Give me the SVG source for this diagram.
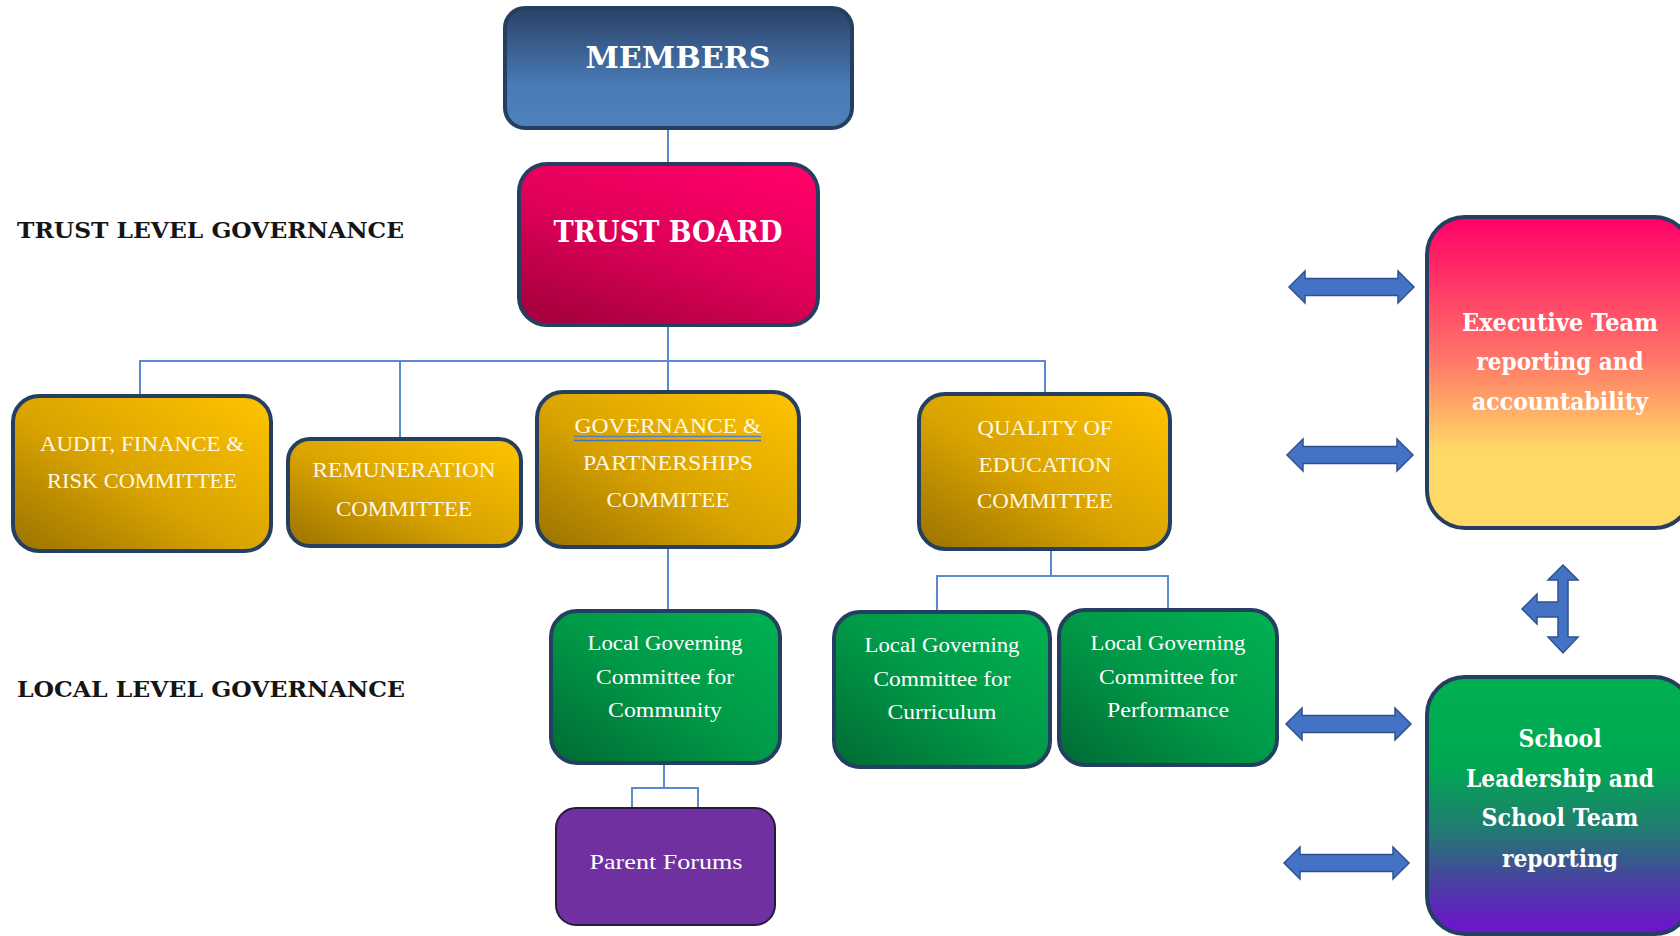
<svg xmlns="http://www.w3.org/2000/svg" width="1680" height="936" viewBox="0 0 1680 936">
<style>
.box{stroke:#243F60;stroke-width:4}
.conn{fill:none;stroke:#5B8AD0;stroke-width:2}
.arrow{fill:#4472C4;stroke:#2F528F;stroke-width:1.5}
.title{font-family:"DejaVu Serif","Liberation Serif",serif;font-weight:bold;fill:#fff;text-anchor:middle;lengthAdjust:spacingAndGlyphs}
.side{font-family:"DejaVu Serif","Liberation Serif",serif;font-weight:bold;fill:#151515;font-size:23px}
.cm{font-family:"Liberation Serif","DejaVu Serif",serif;fill:#FFF8E6;text-anchor:middle;font-size:22px}
.gr{font-family:"Liberation Serif","DejaVu Serif",serif;fill:#fff;text-anchor:middle;font-size:21px}
.rt{font-family:"DejaVu Serif","Liberation Serif",serif;font-weight:bold;fill:#fff;text-anchor:middle;font-size:24px}
</style>
<defs>
<linearGradient id="gMem" x1="0" y1="0" x2="0" y2="1">
<stop offset="0" stop-color="#2A4266"/><stop offset="0.65" stop-color="#4A7BB7"/><stop offset="1" stop-color="#4F81BD"/>
</linearGradient>
<linearGradient id="gTrust" x1="0.2" y1="1" x2="0.8" y2="0">
<stop offset="0" stop-color="#A8003E"/><stop offset="0.5" stop-color="#E0005A"/><stop offset="1" stop-color="#FF0066"/>
</linearGradient>
<linearGradient id="gYel" x1="0" y1="1" x2="1" y2="0">
<stop offset="0" stop-color="#9A7200"/><stop offset="0.45" stop-color="#D9A300"/><stop offset="1" stop-color="#FFC400"/>
</linearGradient>
<linearGradient id="gGrn" x1="0" y1="1" x2="1" y2="0">
<stop offset="0" stop-color="#006A34"/><stop offset="0.5" stop-color="#009A48"/><stop offset="1" stop-color="#00B252"/>
</linearGradient>
<linearGradient id="gExec" x1="0" y1="0" x2="0" y2="1">
<stop offset="0" stop-color="#FF0066"/><stop offset="0.45" stop-color="#FF7468"/><stop offset="0.75" stop-color="#FFD966"/><stop offset="1" stop-color="#FFD966"/>
</linearGradient>
<linearGradient id="gSch" x1="0" y1="0" x2="0" y2="1">
<stop offset="0" stop-color="#00B050"/><stop offset="0.35" stop-color="#00A852"/><stop offset="0.6" stop-color="#227A72"/><stop offset="0.8" stop-color="#4A40A2"/><stop offset="1" stop-color="#7010D0"/>
</linearGradient>
</defs>
<rect width="1680" height="936" fill="#fff"/>

<g id="connectors">
<path class="conn" d="M668 128V164"/>
<path class="conn" d="M668 325V361"/>
<path class="conn" d="M140 396V361H1045V394"/>
<path class="conn" d="M400 361V439"/>
<path class="conn" d="M668 361V392"/>
<path class="conn" d="M668 547V611"/>
<path class="conn" d="M1051 549V576"/>
<path class="conn" d="M937 612V576H1168V610"/>
<path class="conn" d="M664 763V788"/>
<path class="conn" d="M632 808V788H698V808"/>
</g>

<g id="label-trust"><text class="side" x="17" y="238" textLength="387" lengthAdjust="spacingAndGlyphs">TRUST LEVEL GOVERNANCE</text></g>
<g id="label-local"><text class="side" x="17" y="697" textLength="388" lengthAdjust="spacingAndGlyphs">LOCAL LEVEL GOVERNANCE</text></g>

<g id="members">
<rect class="box" x="505" y="8" width="347" height="120" rx="20" fill="url(#gMem)"/>
<text class="title" x="678" y="68" font-size="30" textLength="185" lengthAdjust="spacingAndGlyphs">MEMBERS</text>
</g>

<g id="trust-board">
<rect class="box" x="519" y="164" width="299" height="161" rx="28" fill="url(#gTrust)"/>
<text class="title" x="668" y="242" font-size="30" textLength="229" lengthAdjust="spacingAndGlyphs">TRUST BOARD</text>
</g>

<g id="audit">
<rect class="box" x="13" y="396" width="258" height="155" rx="26" fill="url(#gYel)"/>
<text class="cm" x="142" y="451" textLength="204" lengthAdjust="spacingAndGlyphs">AUDIT, FINANCE &amp;</text>
<text class="cm" x="142" y="488" textLength="190" lengthAdjust="spacingAndGlyphs">RISK COMMITTEE</text>
</g>

<g id="remuneration">
<rect class="box" x="288" y="439" width="233" height="107" rx="22" fill="url(#gYel)"/>
<text class="cm" x="404" y="477" textLength="183" lengthAdjust="spacingAndGlyphs">REMUNERATION</text>
<text class="cm" x="404" y="516" textLength="136" lengthAdjust="spacingAndGlyphs">COMMITTEE</text>
</g>

<g id="governance">
<rect class="box" x="537" y="392" width="262" height="155" rx="26" fill="url(#gYel)"/>
<text class="cm" x="668" y="433" textLength="187" lengthAdjust="spacingAndGlyphs">GOVERNANCE  &amp;</text>
<line x1="574" y1="436.5" x2="761" y2="436.5" stroke="#5B7FB8" stroke-width="1.5"/>
<line x1="574" y1="440.5" x2="761" y2="440.5" stroke="#4472C4" stroke-width="1.5"/>
<text class="cm" x="668" y="470" textLength="170" lengthAdjust="spacingAndGlyphs">PARTNERSHIPS</text>
<text class="cm" x="668" y="507" textLength="123" lengthAdjust="spacingAndGlyphs">COMMITEE</text>
</g>

<g id="quality">
<rect class="box" x="919" y="394" width="251" height="155" rx="26" fill="url(#gYel)"/>
<text class="cm" x="1045" y="435" textLength="135" lengthAdjust="spacingAndGlyphs">QUALITY OF</text>
<text class="cm" x="1045" y="472" textLength="133" lengthAdjust="spacingAndGlyphs">EDUCATION</text>
<text class="cm" x="1045" y="508" textLength="136" lengthAdjust="spacingAndGlyphs">COMMITTEE</text>
</g>

<g id="lgc-community">
<rect class="box" x="551" y="611" width="229" height="152" rx="26" fill="url(#gGrn)"/>
<text class="gr" x="665" y="650" textLength="155" lengthAdjust="spacingAndGlyphs">Local Governing</text>
<text class="gr" x="665" y="684" textLength="138" lengthAdjust="spacingAndGlyphs">Committee for</text>
<text class="gr" x="665" y="717" textLength="114" lengthAdjust="spacingAndGlyphs">Community</text>
</g>

<g id="lgc-curriculum">
<rect class="box" x="834" y="612" width="216" height="155" rx="26" fill="url(#gGrn)"/>
<text class="gr" x="942" y="652" textLength="155" lengthAdjust="spacingAndGlyphs">Local Governing</text>
<text class="gr" x="942" y="686" textLength="137" lengthAdjust="spacingAndGlyphs">Committee for</text>
<text class="gr" x="942" y="719" textLength="109" lengthAdjust="spacingAndGlyphs">Curriculum</text>
</g>

<g id="lgc-performance">
<rect class="box" x="1059" y="610" width="218" height="155" rx="26" fill="url(#gGrn)"/>
<text class="gr" x="1168" y="650" textLength="155" lengthAdjust="spacingAndGlyphs">Local Governing</text>
<text class="gr" x="1168" y="684" textLength="138" lengthAdjust="spacingAndGlyphs">Committee for</text>
<text class="gr" x="1168" y="717" textLength="122" lengthAdjust="spacingAndGlyphs">Performance</text>
</g>

<g id="parent-forums">
<rect x="556" y="808" width="219" height="117" rx="20" fill="#7030A0" stroke="#2A1A3A" stroke-width="2"/>
<text class="gr" x="666" y="869" font-size="24" textLength="153" lengthAdjust="spacingAndGlyphs">Parent Forums</text>
</g>

<g id="executive-team">
<rect class="box" x="1427" y="217" width="265" height="311" rx="38" fill="url(#gExec)"/>
<text class="rt" x="1560" y="331" textLength="196" lengthAdjust="spacingAndGlyphs">Executive Team</text>
<text class="rt" x="1560" y="370" textLength="167" lengthAdjust="spacingAndGlyphs">reporting and</text>
<text class="rt" x="1560" y="410" textLength="176" lengthAdjust="spacingAndGlyphs">accountability</text>
</g>

<g id="school-leadership">
<rect class="box" x="1427" y="677" width="265" height="257" rx="38" fill="url(#gSch)"/>
<text class="rt" x="1560" y="747" textLength="83" lengthAdjust="spacingAndGlyphs">School</text>
<text class="rt" x="1560" y="787" textLength="188" lengthAdjust="spacingAndGlyphs">Leadership and</text>
<text class="rt" x="1560" y="826" textLength="157" lengthAdjust="spacingAndGlyphs">School Team</text>
<text class="rt" x="1560" y="867" textLength="116" lengthAdjust="spacingAndGlyphs">reporting</text>
</g>

<g id="arrows">
<polygon class="arrow" points="1289,287 1305,271 1305,278.5 1398,278.5 1398,271 1414,287 1398,303 1398,295.5 1305,295.5 1305,303"/>
<polygon class="arrow" points="1287,455 1303,439 1303,446.5 1397,446.5 1397,439 1413,455 1397,471 1397,463.5 1303,463.5 1303,471"/>
<polygon class="arrow" points="1286,724 1302,708 1302,715.5 1395,715.5 1395,708 1411,724 1395,740 1395,732.5 1302,732.5 1302,740"/>
<polygon class="arrow" points="1284,863 1300,847 1300,854.5 1393,854.5 1393,847 1409,863 1393,879 1393,871.5 1300,871.5 1300,879"/>
<polygon class="arrow" points="1563,565 1578,580 1568,580 1568,637 1578,637 1563,653 1548,637 1558,637 1558,617 1537,617 1537,624 1522,609 1537,594 1537,602 1558,602 1558,580 1548,580"/>
</g>
</svg>
